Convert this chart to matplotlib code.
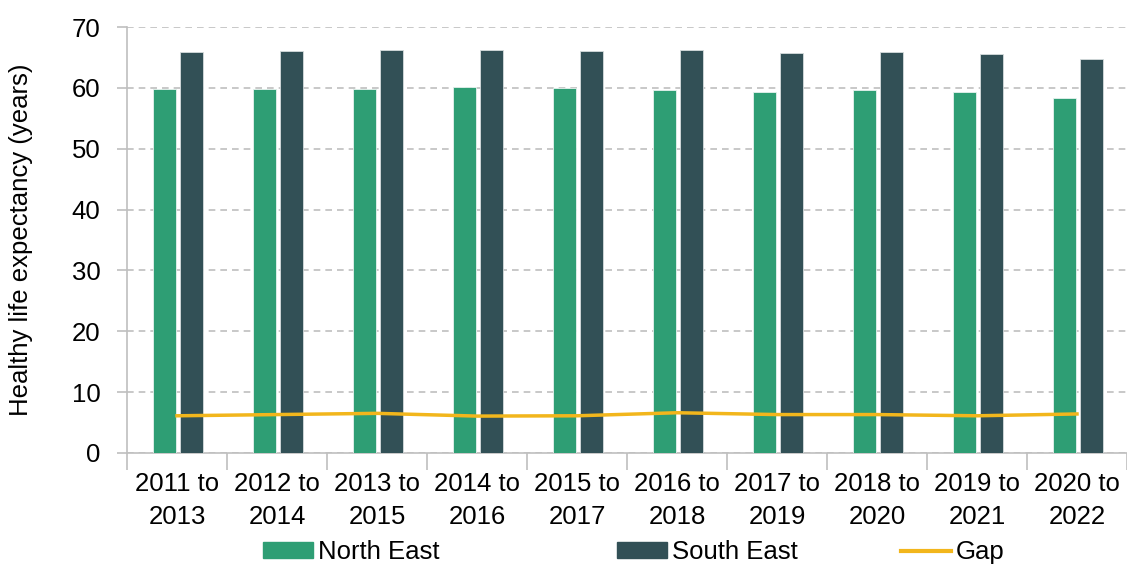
import matplotlib.pyplot as plt
import numpy as np
from matplotlib.lines import Line2D
from matplotlib.patches import Patch

plt.rcParams['font.family'] = ['Liberation Sans', 'DejaVu Sans']

periods = ["2011 to\n2013", "2012 to\n2014", "2013 to\n2015", "2014 to\n2016", "2015 to\n2017",
           "2016 to\n2018", "2017 to\n2019", "2018 to\n2020", "2019 to\n2021", "2020 to\n2022"]
north_east = [59.8, 59.8, 59.8, 60.2, 60.0, 59.7, 59.4, 59.6, 59.4, 58.3]
south_east = [65.9, 66.1, 66.3, 66.25, 66.1, 66.3, 65.7, 65.9, 65.5, 64.7]
gap = [6.1, 6.3, 6.5, 6.05, 6.1, 6.6, 6.3, 6.3, 6.1, 6.4]

c_ne = "#2e9e74"
c_se = "#325056"
c_gap = "#f2b61c"
grid_col = "#bfbfbf"

fig = plt.figure(figsize=(11.27, 5.64), dpi=100)
ax = fig.add_axes([0.1127, 0.197, 0.8873, 0.755])

x = np.arange(len(periods))
w = 0.23
ax.bar(x - 0.13, north_east, w, color=c_ne, edgecolor="#e6f2ee", linewidth=0.6, zorder=3)
ax.bar(x + 0.14, south_east, w, color=c_se, edgecolor="#d5dcdd", linewidth=0.6, zorder=3)
ax.plot(x, gap, color=c_gap, linewidth=2.5, zorder=4)

ax.set_xlim(-0.5, len(periods) - 0.5)
ax.set_ylim(0, 70)
ax.set_yticks(range(0, 71, 10))
ax.yaxis.grid(True, color=grid_col, linestyle=(0, (4, 3)), linewidth=1.2, zorder=0)
ax.set_axisbelow(True)

ax.set_xticks(x)
ax.set_xticklabels(periods, fontsize=18.5, linespacing=1.45)
ax.set_xticks(np.arange(-0.5, len(periods), 1), minor=True)
ax.tick_params(axis="x", which="major", length=0, pad=14)
ax.tick_params(axis="x", which="minor", length=12, color=grid_col, width=1.2)
ax.tick_params(axis="y", labelsize=18.5, length=7, color=grid_col, width=1.2, pad=12)

for s in ["top", "right"]:
    ax.spines[s].set_visible(False)
for s in ["left", "bottom"]:
    ax.spines[s].set_color(grid_col)
    ax.spines[s].set_linewidth(1.2)

ax.set_ylabel("Healthy life expectancy (years)", fontsize=18.5, labelpad=12)
ax.yaxis.set_label_coords(-0.0945, 0.5)

# three legend entries placed separately, like the original layout
entries = [
    (Patch(color=c_ne), "North East", 263),
    (Patch(color=c_se), "South East", 617),
    (Line2D([], [], color=c_gap, linewidth=3), "Gap", 901),
]
for handle, label, px in entries:
    leg = fig.legend([handle], [label], loc="center left", bbox_to_anchor=(px / 1127, 0.021),
                     frameon=False, fontsize=18.5, handlelength=1.95, handleheight=0.6,
                     handletextpad=0.2, borderpad=0, borderaxespad=0)

fig.savefig("out.png", dpi=100)
